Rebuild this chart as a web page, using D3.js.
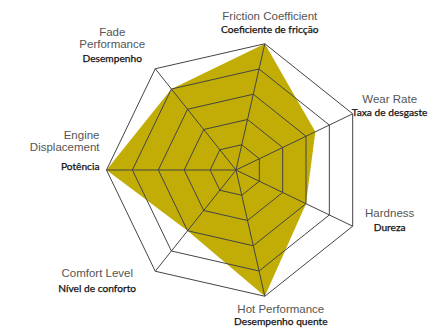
<!DOCTYPE html>
<html>
<head>
<meta charset="utf-8">
<script src="https://cdn.jsdelivr.net/npm/d3@7"></script>
<style>
  body { margin: 0; background: #fff; }
  .en { font-family: "Liberation Sans", Arial, sans-serif; font-size: 11.5px; fill: #555; }
  .pt { font-family: Lato, "Open Sans", sans-serif; font-size: 10.2px; fill: #111; stroke: #111; stroke-width: 0.25px; }
</style>
</head>
<body>
<div id="chart"></div>
<script>
// axis names (english lines), portuguese labels and scores out of 5
const axesEn = [
    ["Friction Coefficient"], ["Wear Rate"], ["Hardness"], ["Hot Performance"],
    ["Comfort Level"], ["Engine", "Displacement"], ["Fade", "Performance"]
];
const axesPt = [
    "Coeficiente de fricção", "Taxa de desgaste", "Dureza", "Desempenho quente",
    "Nível de conforto", "Potência", "Desempenho"
];
const scores = [5, 3.4, 3, 5, 3, 5, 4];
const levels = [1, 2, 3, 4, 5];

// label placement relative to the outer vertex
const labelLayout = [
    { dx: 5, dy: -24, anchor: "middle", gap: 13 },
    { dx: 37, dy: -11, anchor: "middle", gap: 13 },
    { dx: 37, dy: -9, anchor: "middle", gap: 14 },
    { dx: 16, dy: 17, anchor: "middle", gap: 12 },
    { dx: -58, dy: 6, anchor: "middle", gap: 15 },
    { dx: -7, dy: -31, anchor: "end", gap: 19 },
    { dx: -43, dy: -33, anchor: "middle", gap: 14 }
];
const lineStep = 12;

const width = 448, height = 331;
const cx = 236, cy = 170;
const n = scores.length;

var svg = d3.select("#chart").append("svg")
    .attr("width", width)
    .attr("height", height);

var r = d3.scaleLinear().domain([0, 5]).range([0, 129.5]);
var angle = d3.scaleLinear().domain([0, n]).range([Math.PI / (2 * n), Math.PI / (2 * n) + 2 * Math.PI]);

function pt(i, v) {
    const a = angle(i);
    return [cx + r(v) * Math.sin(a), cy - r(v) * Math.cos(a)];
}

var line = d3.line().curve(d3.curveLinearClosed);

// filled score area
svg.append("path")
    .attr("d", line(scores.map((v, i) => pt(i, v))))
    .attr("fill", "#c2ad06");

// rings
svg.selectAll(".ring")
    .data(levels)
    .enter().append("path")
    .attr("class", "ring")
    .attr("d", lv => line(d3.range(n).map(i => pt(i, lv))))
    .attr("fill", "none")
    .attr("stroke", "#444")
    .attr("stroke-width", 1);

// spokes
svg.selectAll(".spoke")
    .data(d3.range(n))
    .enter().append("line")
    .attr("class", "spoke")
    .attr("x1", cx).attr("y1", cy)
    .attr("x2", i => pt(i, 5)[0])
    .attr("y2", i => pt(i, 5)[1])
    .attr("stroke", "#444")
    .attr("stroke-width", 1);

// labels
d3.range(n).forEach(function(i) {
    const p = pt(i, 5);
    const L = labelLayout[i];
    const x = p[0] + L.dx;
    const g = svg.append("g");
    axesEn[i].forEach(function(t, k) {
        g.append("text").attr("class", "en")
            .attr("x", x).attr("y", p[1] + L.dy + k * lineStep)
            .attr("text-anchor", L.anchor)
            .text(t);
    });
    g.append("text").attr("class", "pt")
        .attr("x", x).attr("y", p[1] + L.dy + (axesEn[i].length - 1) * lineStep + L.gap)
        .attr("text-anchor", L.anchor)
        .text(axesPt[i]);
});
</script>
</body>
</html>
